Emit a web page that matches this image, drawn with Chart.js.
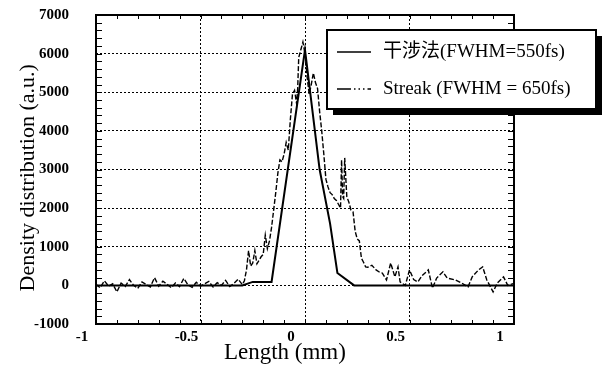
<!DOCTYPE html>
<html><head><meta charset="utf-8">
<script src="https://cdn.jsdelivr.net/npm/chart.js@4.4.1/dist/chart.umd.min.js"></script>
<style>html,body{margin:0;padding:0;background:#fff;overflow:hidden}canvas{display:block}</style>
</head><body>
<canvas id="c" width="609" height="374"></canvas>
<script>
const seriesLabels = ['干涉法(FWHM=550fs)', 'Streak (FWHM = 650fs)'];

const interfX = [-1, -0.30, -0.25, -0.16, 0.0, 0.07, 0.12, 0.155, 0.235, 1.0];
const interfY = [0, 0, 90, 90, 6100, 3000, 1600, 320, 0, 0];

const streakX = [
  -1.00,-0.98,-0.96,-0.94,-0.92,-0.90,-0.88,-0.86,-0.84,-0.82,
  -0.80,-0.78,-0.76,-0.74,-0.72,-0.70,-0.68,-0.66,-0.64,-0.62,
  -0.60,-0.58,-0.56,-0.54,-0.52,-0.50,-0.48,-0.46,-0.44,-0.42,
  -0.40,-0.38,-0.36,-0.34,-0.32,-0.30,-0.29,-0.28,-0.27,-0.26,
  -0.25,-0.24,-0.23,-0.22,-0.21,-0.20,-0.19,-0.18,-0.17,-0.16,
  -0.15,-0.14,-0.13,-0.12,-0.11,-0.10,-0.09,-0.08,-0.07,-0.06,
  -0.05,-0.04,-0.035,-0.03,-0.02,-0.01,0.00,0.01,0.02,0.03,
  0.04,0.05,0.06,0.07,0.08,0.09,0.10,0.11,0.12,0.13,
  0.14,0.15,0.16,0.17,0.175,0.18,0.185,0.19,0.20,0.21,
  0.22,0.23,0.24,0.25,0.26,0.27,0.28,0.29,0.30,0.32,
  0.34,0.36,0.37,0.39,0.41,0.43,0.445,0.455,0.48,0.50,
  0.52,0.54,0.56,0.59,0.61,0.63,0.66,0.68,0.72,0.75,
  0.78,0.80,0.83,0.85,0.87,0.90,0.92,0.95,0.97,1.00
];
const streakY = [
  30,-60,120,-20,40,-170,60,-30,150,0,
  -80,90,20,-40,200,-20,110,30,-60,60,
  -30,180,10,-50,80,-20,40,100,-40,70,
  0,130,-30,50,160,20,120,400,900,500,
  580,900,560,650,740,800,1300,950,1150,1500,
  1950,2400,2900,3250,3200,3400,3700,3500,4300,4950,
  5050,4700,5100,5900,6100,6300,6000,5400,4950,5200,
  5500,5250,5100,4500,4000,3400,2750,2550,2400,2350,
  2250,2200,2100,2000,3250,2300,2250,3300,2300,2150,
  1950,1900,1400,1200,1150,700,600,480,470,520,
  400,330,320,140,580,220,480,90,0,400,
  150,90,250,400,-70,190,350,190,140,60,
  -40,220,400,480,140,-170,60,220,0,50
];

const xTicks = [-1, -0.5, 0, 0.5, 1];
const yTicks = [-1000, 0, 1000, 2000, 3000, 4000, 5000, 6000, 7000];
const xTitle = 'Length (mm)';
const yTitle = 'Density distribution (a.u.)';

const SERIF = '"Liberation Serif", "Noto Sans CJK SC", serif';

const framePlugin = {
  id: 'frame',
  afterDatasetsDraw(chart) {
    const {ctx, chartArea: a, scales} = chart;
    const xs = scales.x, ys = scales.y;
    ctx.save();
    ctx.strokeStyle = '#000';
    ctx.lineWidth = 1;
    for (let v = -10; v <= 10; v++) {
      const px = Math.round(xs.getPixelForValue(v / 10)) + 0.5;
      ctx.beginPath();
      ctx.moveTo(px, a.bottom); ctx.lineTo(px, a.bottom - 4);
      ctx.moveTo(px, a.top); ctx.lineTo(px, a.top + 4);
      ctx.stroke();
    }
    for (let v = -1000; v <= 7000; v += 200) {
      const py = Math.round(ys.getPixelForValue(v)) + 0.5;
      ctx.beginPath();
      ctx.moveTo(a.left, py); ctx.lineTo(a.left + 6, py);
      ctx.moveTo(a.right, py); ctx.lineTo(a.right - 6, py);
      ctx.stroke();
    }
    ctx.lineWidth = 2;
    ctx.strokeRect(a.left, a.top, a.right - a.left, a.bottom - a.top);
    ctx.restore();
  }
};

const legendPlugin = {
  id: 'boxLegend',
  afterDraw(chart) {
    const ctx = chart.ctx;
    const x0 = 327, y0 = 30, w = 269, h = 79;
    ctx.save();
    ctx.fillStyle = '#000';
    ctx.fillRect(x0 + 6, y0 + 6, w, h);
    ctx.fillStyle = '#fff';
    ctx.fillRect(x0, y0, w, h);
    ctx.strokeStyle = '#000';
    ctx.lineWidth = 2;
    ctx.strokeRect(x0, y0, w, h);
    const rows = [52, 89];
    chart.data.datasets.forEach((ds, i) => {
      const y = rows[i];
      ctx.beginPath();
      ctx.lineWidth = 1.5;
      ctx.setLineDash(i === 0 ? [] : [14, 3, 1.5, 3, 1.5, 3, 1.5, 3]);
      ctx.moveTo(337, y); ctx.lineTo(371, y);
      ctx.stroke();
      ctx.setLineDash([]);
      ctx.fillStyle = '#000';
      ctx.font = '19px ' + SERIF;
      ctx.textBaseline = 'middle';
      ctx.textAlign = 'left';
      ctx.fillText(ds.label, 383, y);
    });
    ctx.restore();
  }
};

new Chart(document.getElementById('c'), {
  type: 'line',
  data: {
    datasets: [
      {
        label: seriesLabels[0],
        data: interfX.map((x, i) => ({x, y: interfY[i]})),
        borderColor: '#000', borderWidth: 2, pointRadius: 0, tension: 0, fill: false
      },
      {
        label: seriesLabels[1],
        data: streakX.map((x, i) => ({x, y: streakY[i]})),
        borderColor: '#000', borderWidth: 1.4, borderDash: [5, 2], pointRadius: 0, tension: 0, fill: false
      }
    ]
  },
  options: {
    responsive: false,
    animation: false,
    devicePixelRatio: 1,
    layout: {padding: {top: 15, right: 95, left: 0, bottom: 0}},
    plugins: {legend: {display: false}, tooltip: {enabled: false}},
    scales: {
      x: {
        type: 'linear', min: -1, max: 1,
        afterBuildTicks: s => { s.ticks = xTicks.map(v => ({value: v})); },
        afterFit: s => { s.height = 50; },
        ticks: {
          autoSkip: false, maxRotation: 0, padding: 4, labelOffset: -14,
          color: '#000', font: {family: SERIF, size: 15, weight: 'bold'},
          callback: v => String(v)
        },
        grid: {color: '#000', lineWidth: 1, drawTicks: false},
        border: {display: false, dash: [2, 2]},
        title: {display: true, text: xTitle + '       ', color: '#000',
          font: {family: SERIF, size: 23}, padding: {top: 0, bottom: 7}}
      },
      y: {
        type: 'linear', min: -1000, max: 7000,
        afterBuildTicks: s => { s.ticks = yTicks.map(v => ({value: v})); },
        afterFit: s => { s.width = 96; },
        ticks: {
          autoSkip: false, padding: 3,
          color: '#000', font: {family: SERIF, size: 15, weight: 'bold'},
          callback: v => String(v)
        },
        grid: {color: '#000', lineWidth: 1, drawTicks: true, tickLength: 24, tickColor: 'rgba(0,0,0,0)'},
        border: {display: false, dash: [2, 2]},
        title: {display: true, text: yTitle + '   ', color: '#000',
          font: {family: SERIF, size: 22}, padding: {top: 15, bottom: 0}}
      }
    }
  },
  plugins: [framePlugin, legendPlugin]
});
</script>
</body></html>
